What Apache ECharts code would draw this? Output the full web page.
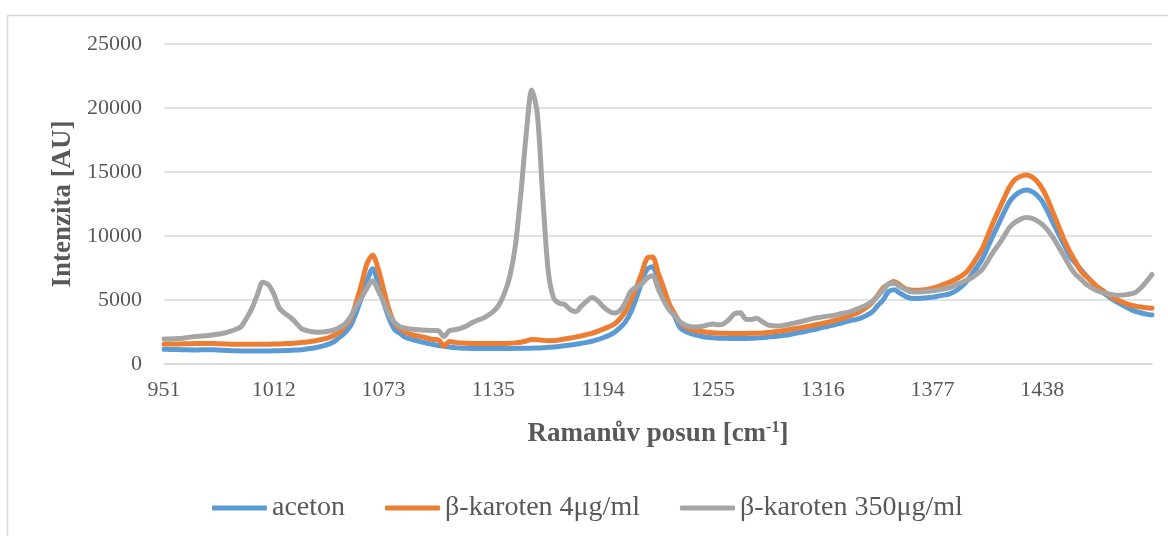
<!DOCTYPE html>
<html>
<head>
<meta charset="utf-8">
<script src="https://cdn.jsdelivr.net/npm/echarts@6/dist/echarts.min.js"></script>
<style>
html,body{margin:0;padding:0;background:#fff;}
#chart{width:1168px;height:536px;}
</style>
</head>
<body>
<div id="chart"></div>
<script>
// Raman shift categories [cm-1]
const shifts = [
951,954,957,960,963,966,969,972,975,978,982,985,988,991,994,997,1000,1003,1006,1009,
1012,1015,1018,1021,1024,1027,1030,1033,1036,1039,1043,1046,1049,1052,1055,1058,1061,1064,1067,1070,
1073,1076,1079,1082,1085,1089,1092,1095,1098,1101,1104,1107,1110,1113,1116,1120,1123,1126,1129,1132,
1135,1138,1141,1144,1147,1150,1153,1156,1159,1162,1165,1167,1170,1173,1176,1179,1182,1185,1188,1191,
1194,1197,1200,1203,1206,1209,1212,1215,1218,1221,1225,1228,1231,1234,1237,1240,1243,1246,1249,1252,
1255,1258,1261,1264,1267,1270,1273,1276,1279,1282,1286,1289,1292,1295,1298,1301,1304,1307,1310,1313,
1316,1319,1322,1325,1328,1331,1334,1337,1340,1343,1347,1350,1353,1356,1359,1362,1365,1368,1371,1374,
1377,1380,1383,1386,1389,1392,1395,1398,1401,1404,1408,1411,1414,1417,1420,1423,1426,1429,1432,1435,
1438,1441,1444,1447,1450,1453,1456,1459,1462,1465,1469,1472,1475,1478,1481,1484,1487,1490,1493,1496,
1499
];

const aceton = [
1150,1140,1130,1120,1110,1100,1100,1110,1120,1110,1090,1070,1050,1030,1020,1015,1010,1010,1015,1020,
1030,1040,1050,1070,1090,1120,1170,1230,1310,1420,1550,1750,2100,2450,3000,4000,5220,6510,7450,6350,
4850,3560,2700,2380,2080,1950,1820,1720,1620,1520,1440,1380,1330,1280,1250,1230,1220,1210,1210,1210,
1210,1210,1210,1215,1220,1225,1230,1240,1250,1270,1300,1330,1370,1420,1480,1540,1620,1690,1780,1900,
2050,2230,2450,2800,3250,4000,5100,6350,7400,7600,6620,5460,4440,3750,2850,2550,2380,2250,2150,2090,
2050,2020,2010,2000,2000,2000,2000,2010,2030,2060,2100,2140,2180,2240,2310,2400,2480,2560,2650,2750,
2860,2950,3050,3150,3270,3390,3470,3600,3800,4050,4550,5000,5650,5800,5550,5300,5130,5120,5140,5170,
5220,5300,5380,5460,5650,5950,6350,6900,7500,8150,9050,10000,10900,11800,12650,13150,13450,13590,13500,13200,
12700,11900,11000,10150,9300,8450,7900,7400,6900,6450,6000,5600,5300,5000,4750,4500,4300,4110,4000,3900,
3830
];

const karoten4 = [
1560,1560,1570,1570,1580,1590,1600,1610,1610,1600,1580,1560,1550,1540,1540,1540,1540,1550,1550,1550,
1560,1570,1590,1610,1640,1680,1720,1780,1850,1940,2060,2250,2500,3000,3500,4800,6250,7860,8500,7450,
5850,4240,3150,2790,2470,2320,2210,2120,2020,1920,1880,1420,1750,1690,1650,1630,1610,1600,1600,1600,
1600,1610,1610,1620,1650,1700,1800,1920,1900,1850,1820,1830,1880,1950,2030,2100,2200,2300,2400,2550,
2720,2900,3100,3500,4050,4900,5900,7070,8250,8350,7150,5980,4750,3950,3250,2900,2700,2600,2540,2480,
2440,2410,2400,2390,2380,2380,2390,2400,2410,2430,2460,2500,2560,2620,2690,2770,2840,2920,3000,3080,
3170,3260,3380,3500,3630,3780,3930,4150,4430,4800,5340,5950,6250,6450,6200,5900,5780,5760,5780,5830,
5920,6050,6220,6380,6560,6800,7100,7600,8250,8950,9950,11000,11950,12900,13800,14400,14650,14770,14650,14300,
13700,12850,11800,10750,9700,8800,8050,7300,6850,6450,6040,5750,5420,5130,4950,4760,4610,4520,4450,4390,
4350
];

const karoten350 = [
1950,1960,1980,2000,2050,2120,2150,2180,2220,2280,2350,2420,2550,2700,2900,3550,4330,5400,6380,6200,
5480,4370,3950,3650,3250,2780,2600,2520,2490,2500,2560,2660,2850,3150,3700,4500,5200,5950,6500,5760,
4880,3880,3250,2920,2800,2730,2690,2650,2630,2620,2600,2150,2600,2680,2780,2950,3200,3400,3550,3800,
4100,4600,5500,6850,9200,13250,18000,21400,19600,13100,7270,5130,4750,4650,4250,4100,4500,4900,5200,4950,
4480,4150,3980,4150,4750,5650,6000,6250,6700,6900,5900,5000,4250,3800,3300,3050,2920,2900,2930,3050,
3120,3060,3150,3500,3950,4000,3500,3480,3570,3300,3050,2990,2970,3030,3120,3210,3300,3420,3530,3610,
3680,3740,3800,3900,3990,4090,4250,4420,4620,4900,5300,5750,6250,6300,6050,5850,5650,5620,5640,5680,
5720,5780,5850,5950,6120,6320,6500,6700,7000,7350,8000,8700,9300,9950,10650,11050,11300,11450,11400,11200,
10900,10450,9850,9150,8400,7650,7050,6650,6230,5950,5720,5580,5480,5400,5380,5400,5470,5600,5950,6450,
7000
];

const seriesNames = ['aceton', 'β-karoten 4μg/ml', 'β-karoten 350μg/ml'];
const seriesColors = ['#5B9BD5', '#ED7D31', '#A5A5A5'];
const yTicks = { min: 0, max: 25000, step: 5000 };
const labelEvery = 20;

const FONT = '"Liberation Serif", "Times New Roman", serif';
const chart = echarts.init(document.getElementById('chart'));

const values = [aceton, karoten4, karoten350];

chart.setOption({
  animation: false,
  backgroundColor: '#fff',
  graphic: [{
    type: 'rect',
    silent: true,
    shape: { x: 7.5, y: 15.5, width: 1200, height: 600 },
    style: { fill: 'none', stroke: '#D9D9D9', lineWidth: 1.5 }
  }],
  grid: { left: 164, right: 16, top: 44, bottom: 172 },
  legend: {
    left: 207,
    top: 489,
    icon: 'roundRect',
    itemWidth: 55,
    itemHeight: 5,
    itemGap: 40,
    textStyle: { fontFamily: FONT, fontSize: 28, color: '#595959' },
    data: seriesNames
  },
  xAxis: {
    type: 'category',
    data: shifts,
    boundaryGap: false,
    axisLine: { lineStyle: { color: '#D9D9D9', width: 1.5 } },
    axisTick: { show: false },
    axisLabel: {
      interval: function (idx) { return idx % labelEvery === 0 && idx < shifts.length - 1; },
      fontFamily: FONT, fontSize: 22, color: '#595959', margin: 15
    },
    splitLine: { show: false },
    name: 'Ramanův posun [cm{s|-1}]',
    nameLocation: 'middle',
    nameGap: 56,
    nameTextStyle: {
      fontFamily: FONT, fontSize: 27, fontWeight: 'bold', color: '#595959',
      rich: { s: { fontFamily: FONT, fontSize: 16, fontWeight: 'bold', color: '#595959', verticalAlign: 'top', padding: [0, 0, 12, 0] } }
    }
  },
  yAxis: {
    type: 'value',
    min: yTicks.min,
    max: yTicks.max,
    interval: yTicks.step,
    axisLine: { show: false },
    axisTick: { show: false },
    axisLabel: {
      fontFamily: FONT, fontSize: 22, color: '#595959', margin: 22,
      formatter: function (v) { return String(v); }
    },
    splitLine: { lineStyle: { color: '#D9D9D9', width: 1.5 } },
    name: 'Intenzita [AU]',
    nameLocation: 'middle',
    nameGap: 86,
    nameTextStyle: { fontFamily: FONT, fontSize: 27, fontWeight: 'bold', color: '#595959' }
  },
  series: values.map(function (v, k) {
    return {
      name: seriesNames[k],
      type: 'line',
      data: v,
      showSymbol: false,
      symbol: 'none',
      smooth: 0.3,
      color: seriesColors[k],
      lineStyle: { width: 5, color: seriesColors[k], cap: 'round', join: 'round' }
    };
  })
});
</script>
</body>
</html>
